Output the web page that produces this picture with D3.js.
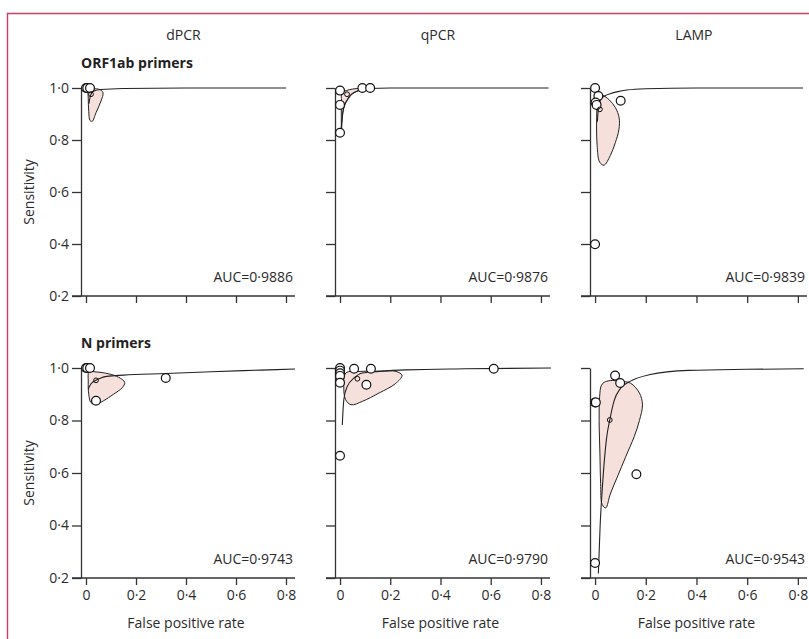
<!DOCTYPE html>
<html>
<head>
<meta charset="utf-8">
<script src="https://cdn.jsdelivr.net/npm/d3@7"></script>
<style>
    body { margin: 0; background: #fff; }
    text { font-family: "Open Sans", "Noto Sans", sans-serif; fill: #2b2b2b; }
    .rowTitle { font-weight: bold; fill: #222; }
</style>
</head>
<body>
<div id="chart"></div>
<script>
// column / row labels
const columns = ["dPCR", "qPCR", "LAMP"];
const rows = ["ORF1ab primers", "N primers"];
const aucLabels = [["AUC=0·9886", "AUC=0·9876", "AUC=0·9839"],
                   ["AUC=0·9743", "AUC=0·9790", "AUC=0·9543"]];
const xTicks = [0, 0.2, 0.4, 0.6, 0.8];
const yTicks = [0.2, 0.4, 0.6, 0.8, 1.0];

// [false positive rate, sensitivity]
// dPCR, ORF1ab
const studiesDpcrOrf = [[0, 1], [0.005, 1], [0.016, 1]];
const summaryDpcrOrf = [0.02, 0.976];
const srocDpcrOrf = [[0.012, 0.94], [0.016, 0.965], [0.02, 0.976], [0.03, 0.988], [0.06, 0.994], [0.15, 0.998], [0.4, 1.0], [0.8, 1.0]];
const regionDpcrOrf = [[0.01, 0.995], [0.03, 0.997], [0.055, 0.994], [0.068, 0.982], [0.06, 0.95], [0.04, 0.905], [0.025, 0.872], [0.016, 0.875], [0.011, 0.91], [0.009, 0.96]];

// qPCR, ORF1ab
const studiesQpcrOrf = [[0, 0.99], [0, 0.935], [0, 0.828], [0.089, 1.0], [0.12, 1.0]];
const summaryQpcrOrf = [0.028, 0.976];
const srocQpcrOrf = [[0.004, 0.83], [0.006, 0.86], [0.009, 0.89], [0.015, 0.925], [0.029, 0.954], [0.045, 0.975], [0.063, 0.986], [0.09, 0.994], [0.116, 0.998], [0.2, 1.0], [0.83, 1.0]];
const regionQpcrOrf = [[0.007, 0.982], [0.025, 0.99], [0.05, 0.996], [0.085, 0.999], [0.12, 1.0], [0.09, 0.995], [0.063, 0.986], [0.045, 0.975], [0.029, 0.955], [0.015, 0.925], [0.009, 0.885], [0.006, 0.84], [0.005, 0.9], [0.006, 0.95]];

// LAMP, ORF1ab
const studiesLampOrf = [[0, 1.0], [0.013, 0.969], [0.002, 0.944], [0.006, 0.935], [0.101, 0.951], [0, 0.399]];
const summaryLampOrf = [0.019, 0.918];
const srocLampOrf = [[0.009, 0.87], [0.012, 0.91], [0.016, 0.94], [0.024, 0.958], [0.04, 0.97], [0.06, 0.978], [0.09, 0.986], [0.125, 0.992], [0.2, 0.997], [0.4, 1.0], [0.82, 1.0]];
const regionLampOrf = [[0.01, 0.975], [0.03, 0.972], [0.055, 0.955], [0.08, 0.925], [0.095, 0.885], [0.094, 0.84], [0.08, 0.79], [0.06, 0.74], [0.035, 0.703], [0.018, 0.715], [0.008, 0.78], [0.006, 0.85], [0.007, 0.92]];

// dPCR, N
const studiesDpcrN = [[0, 1], [0.005, 1], [0.016, 1], [0.319, 0.962], [0.04, 0.875]];
const summaryDpcrN = [0.04, 0.953];
const srocDpcrN = [[0.009, 0.92], [0.02, 0.94], [0.04, 0.953], [0.06, 0.962], [0.083, 0.968], [0.15, 0.973], [0.32, 0.979], [0.5, 0.986], [0.7, 0.992], [0.836, 0.996]];
const regionDpcrN = [[0.012, 0.985], [0.04, 0.985], [0.09, 0.978], [0.13, 0.965], [0.155, 0.945], [0.145, 0.925], [0.11, 0.9], [0.07, 0.875], [0.04, 0.862], [0.02, 0.868], [0.011, 0.9], [0.009, 0.95]];

// qPCR, N
const studiesQpcrN = [[0, 1.0], [0, 0.99], [0, 0.98], [0, 0.97], [0, 0.944], [0.056, 0.997], [0.123, 0.997], [0.612, 0.997], [0.105, 0.936], [0, 0.666]];
const summaryQpcrN = [0.069, 0.959];
const srocQpcrN = [[0.009, 0.783], [0.012, 0.84], [0.016, 0.885], [0.029, 0.93], [0.056, 0.962], [0.089, 0.981], [0.156, 0.987], [0.263, 0.993], [0.5, 0.997], [0.84, 1.0]];
const regionQpcrN = [[0.023, 0.981], [0.08, 0.987], [0.16, 0.988], [0.223, 0.987], [0.247, 0.972], [0.22, 0.94], [0.156, 0.905], [0.089, 0.873], [0.044, 0.86], [0.022, 0.88], [0.015, 0.93]];

// LAMP, N
const studiesLampN = [[0, 0.869], [0.003, 0.869], [0.079, 0.971], [0.099, 0.943], [0.163, 0.595], [0, 0.257]];
const summaryLampN = [0.058, 0.802];
const srocLampN = [[0.013, 0.217], [0.02, 0.4], [0.029, 0.548], [0.045, 0.73], [0.058, 0.802], [0.075, 0.875], [0.1, 0.922], [0.14, 0.95], [0.213, 0.974], [0.37, 0.991], [0.6, 0.995], [0.823, 0.997]];
const regionLampN = [[0.035, 0.945], [0.06, 0.952], [0.1, 0.95], [0.14, 0.942], [0.175, 0.905], [0.187, 0.86], [0.175, 0.8], [0.155, 0.74], [0.12, 0.66], [0.09, 0.59], [0.06, 0.52], [0.042, 0.467], [0.028, 0.48], [0.022, 0.56], [0.019, 0.68], [0.016, 0.8], [0.018, 0.89], [0.024, 0.932]];

const panels = [
    [{ studies: studiesDpcrOrf, summary: summaryDpcrOrf, sroc: srocDpcrOrf, region: regionDpcrOrf },
     { studies: studiesQpcrOrf, summary: summaryQpcrOrf, sroc: srocQpcrOrf, region: regionQpcrOrf },
     { studies: studiesLampOrf, summary: summaryLampOrf, sroc: srocLampOrf, region: regionLampOrf }],
    [{ studies: studiesDpcrN, summary: summaryDpcrN, sroc: srocDpcrN, region: regionDpcrN },
     { studies: studiesQpcrN, summary: summaryQpcrN, sroc: srocQpcrN, region: regionQpcrN },
     { studies: studiesLampN, summary: summaryLampN, sroc: srocLampN, region: regionLampN }]
];

const w = 809;
const h = 639;

// layout of the grid
const colLeft = [81, 335, 590];
const colWidth = [214, 215, 217];
const rowTop = [88, 368];
const rowBottom = [296, 578];
const fontSize = "14px";

const fmt = function (d) {
    return d === 0 ? "0" : d3.format(".1f")(d).replace(".", "·");
};

function drawPanel(svg, r, c) {
    const p = panels[r][c];

    const xScale = d3.scaleLinear()
        .domain([-0.02, 0.836])
        .range([colLeft[c], colLeft[c] + colWidth[c]]);

    const yScale = d3.scaleLinear()
        .domain([0.2, 1.0])
        .range([rowBottom[r], rowTop[r]]);

    const g = svg.append("g");

    // confidence region
    const regionLine = d3.line()
        .x(function (d) { return xScale(d[0]); })
        .y(function (d) { return yScale(d[1]); })
        .curve(d3.curveCatmullRomClosed.alpha(0.5));

    g.append("path")
        .attr("d", regionLine(p.region))
        .attr("fill", "#f6e0dc")
        .attr("stroke", "#222")
        .attr("stroke-width", 1);

    // SROC curve
    const srocLine = d3.line()
        .x(function (d) { return xScale(d[0]); })
        .y(function (d) { return yScale(d[1]); })
        .curve(d3.curveMonotoneX);

    g.append("path")
        .attr("d", srocLine(p.sroc))
        .attr("fill", "none")
        .attr("stroke", "#222")
        .attr("stroke-width", 1.1);

    // axes
    const yAxis = d3.axisLeft(yScale)
        .tickValues(yTicks)
        .tickSize(9)
        .tickSizeOuter(0)
        .tickPadding(3)
        .tickFormat(c === 0 ? fmt : "");

    const yg = g.append("g")
        .attr("transform", "translate(" + colLeft[c] + ",0)")
        .call(yAxis);

    const xAxis = d3.axisBottom(xScale)
        .tickValues(xTicks)
        .tickSize(7)
        .tickSizeOuter(0)
        .tickPadding(5)
        .tickFormat(r === 1 ? fmt : "");

    const xg = g.append("g")
        .attr("transform", "translate(0," + rowBottom[r] + ")")
        .call(xAxis);
    xg.select(".domain").remove();
    xg.append("line")
        .attr("x1", colLeft[c] - 9)
        .attr("x2", colLeft[c] + colWidth[c]);

    [yg, xg].forEach(function (a) {
        a.selectAll("path, line").attr("stroke", "#333").attr("stroke-width", 1.3);
        a.selectAll("text")
            .style("font-family", "'Open Sans', sans-serif")
            .style("font-size", fontSize)
            .attr("fill", "#2b2b2b");
    });

    // study points
    g.selectAll(".study")
        .data(p.studies)
        .enter()
        .append("circle")
        .attr("class", "study")
        .attr("cx", function (d) { return xScale(d[0]); })
        .attr("cy", function (d) { return yScale(d[1]); })
        .attr("r", 4.4)
        .attr("fill", "#fff")
        .attr("stroke", "#111")
        .attr("stroke-width", 1.2);

    // summary point
    g.append("circle")
        .attr("cx", xScale(p.summary[0]))
        .attr("cy", yScale(p.summary[1]))
        .attr("r", 2.4)
        .attr("fill", "none")
        .attr("stroke", "#111")
        .attr("stroke-width", 1);

    // AUC label
    g.append("text")
        .attr("text-anchor", "end")
        .attr("x", colLeft[c] + colWidth[c] - 2)
        .attr("y", rowBottom[r] - 14)
        .style("font-size", fontSize)
        .text(aucLabels[r][c]);

    // column header
    if (r === 0) {
        g.append("text")
            .attr("text-anchor", "middle")
            .attr("x", xScale(0.39))
            .attr("y", 40)
            .style("font-size", fontSize)
            .text(columns[c]);
    }

    if (c === 0) {
        g.append("text")
            .attr("class", "rowTitle")
            .attr("x", colLeft[c])
            .attr("y", rowTop[r] - 20)
            .style("font-size", fontSize)
            .text(rows[r]);

        g.append("text")
            .attr("text-anchor", "middle")
            .attr("transform", "translate(34," + ((rowTop[r] + rowBottom[r]) / 2) + ") rotate(-90)")
            .style("font-size", fontSize)
            .text("Sensitivity");
    }

    if (r === 1) {
        g.append("text")
            .attr("text-anchor", "middle")
            .attr("x", xScale(0.4))
            .attr("y", 628)
            .style("font-size", fontSize)
            .text("False positive rate");
    }
}

function init() {
    const svg = d3.select("#chart")
        .append("svg")
        .attr("width", w)
        .attr("height", h);

    // frame
    svg.append("path")
        .attr("d", "M7.5," + h + "V13.5H" + w)
        .attr("fill", "none")
        .attr("stroke", "#c8406a")
        .attr("stroke-width", 1.4);

    for (let r = 0; r < rows.length; r++) {
        for (let c = 0; c < columns.length; c++) {
            drawPanel(svg, r, c);
        }
    }
}

window.onload = init;
</script>
</body>
</html>
